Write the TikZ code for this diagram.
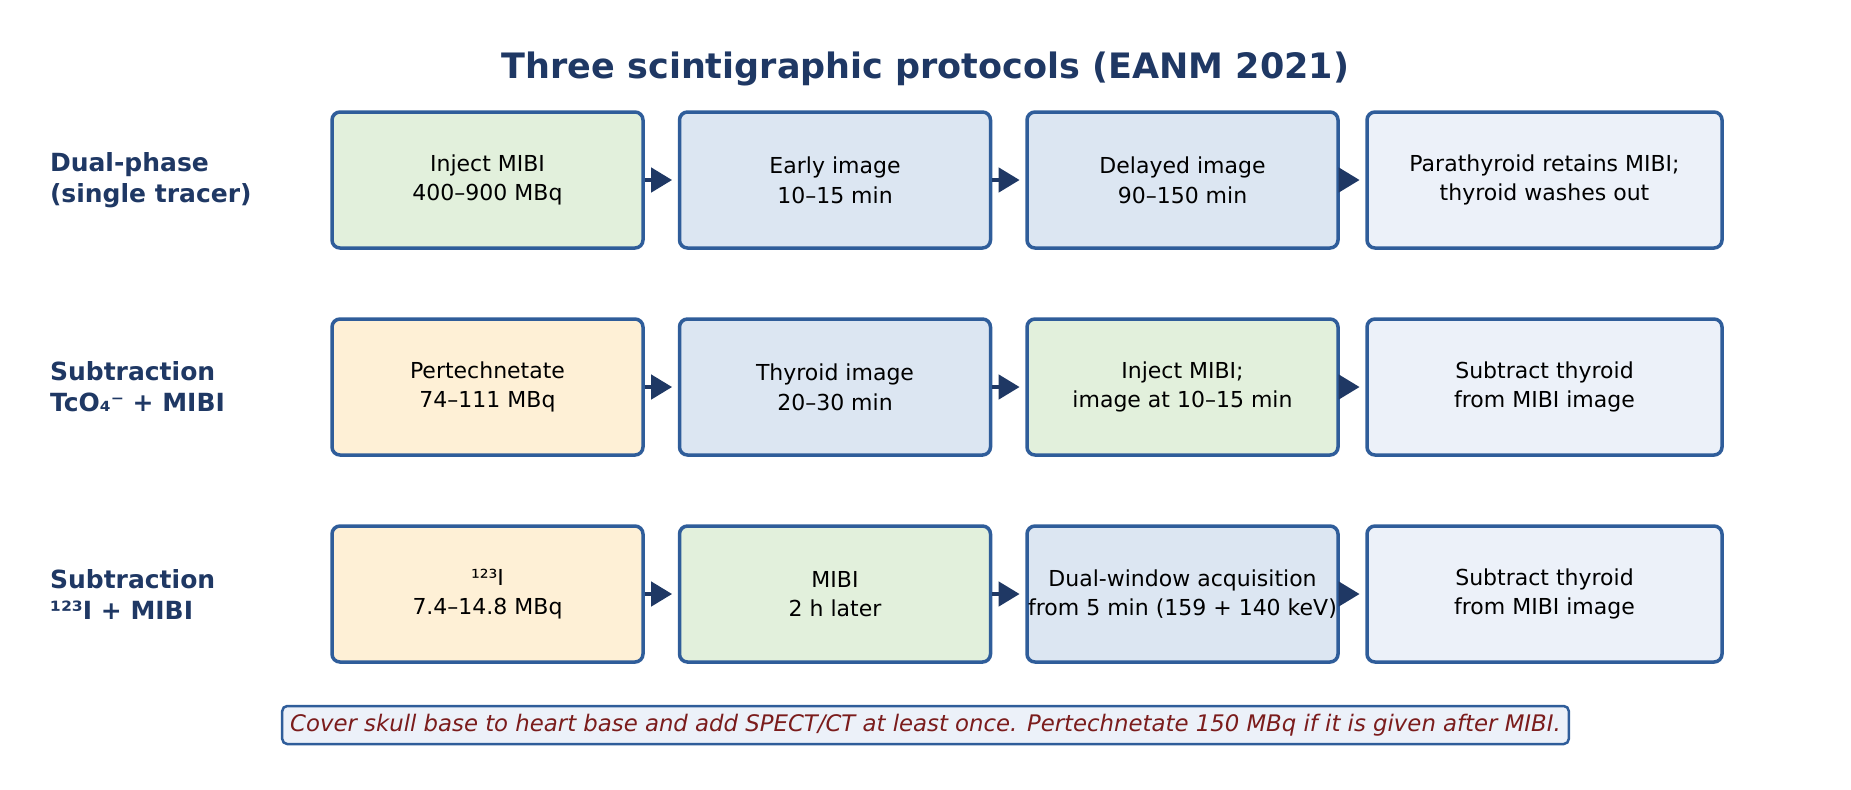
\documentclass[tikz,border=0pt]{standalone}
\usepackage{fontspec}
\setmainfont{DejaVu Sans}
\usepackage{tikz}
\usetikzlibrary{arrows.meta,positioning}
\definecolor{navy}{HTML}{1F3864}
\definecolor{edgeblue}{HTML}{2F5D9A}
\definecolor{injgreen}{HTML}{E2F0DC}
\definecolor{imgblue}{HTML}{DCE6F2}
\definecolor{outpale}{HTML}{ECF1F9}
\definecolor{tracer}{HTML}{FEF0D6}
\definecolor{notered}{HTML}{7B1C1C}
\tikzset{box/.style={draw=edgeblue, line width=1.75pt, rounded corners=4pt,
    minimum width=155.5pt, minimum height=68pt, inner sep=0pt, align=center,
    font=\fontsize{11}{14.8}\selectfont}}
\tikzstyle{inj}=[box, fill=injgreen]
\tikzstyle{img}=[box, fill=imgblue]
\tikzstyle{res}=[box, fill=outpale, minimum width=177.5pt]
\tikzstyle{trc}=[box, fill=tracer]
\tikzstyle{lbl}=[anchor=west, align=left, text=navy, font=\fontsize{12.5}{15.5}\selectfont\bfseries]
\begin{document}
\begin{tikzpicture}[node distance=173.75pt,>={Triangle[length=10.5pt,width=12pt]}]
    \useasboundingbox (0,0) rectangle (925.5pt,-394.5pt);
    \node [text=navy, font=\fontsize{17.5}{20}\selectfont\bfseries] (title) at (462.75pt,-34.25pt) {Three scintigraphic protocols (EANM 2021)};
    % dual-phase
    \node [inj] (d1) at (243.75pt,-90pt) {Inject MIBI\\400–900 MBq};
    \node [img] (d2) [right of=d1] {Early image\\10–15 min};
    \node [img] (d3) [right of=d2] {Delayed image\\90–150 min};
    \node [res] (d4) [right of=d3, node distance=181pt] {Parathyroid retains MIBI;\\thyroid washes out};
    % pertechnetate subtraction
    \node [trc] (t1) [below of=d1, node distance=103.5pt] {Pertechnetate\\74–111 MBq};
    \node [img] (t2) [right of=t1] {Thyroid image\\20–30 min};
    \node [inj] (t3) [right of=t2] {Inject MIBI;\\image at 10–15 min};
    \node [res] (t4) [right of=t3, node distance=181pt] {Subtract thyroid\\from MIBI image};
    % iodine subtraction
    \node [trc] (i1) [below of=t1, node distance=103.5pt] {¹²³I\\7.4–14.8 MBq};
    \node [inj] (i2) [right of=i1] {MIBI\\2 h later};
    \node [img] (i3) [right of=i2] {Dual-window acquisition\\from 5 min (159 + 140 keV)};
    \node [res] (i4) [right of=i3, node distance=181pt] {Subtract thyroid\\from MIBI image};
    \node [lbl] (ld) at (21.5pt,-90pt) {Dual-phase\\(single tracer)};
    \node [lbl] (lt) at (21.5pt,-193.5pt) {Subtraction\\TcO₄⁻ + MIBI};
    \node [lbl] (li) at (21.5pt,-297pt) {Subtraction\\¹²³I + MIBI};
    \path[->, navy, line width=2.2pt, shorten >=2.8pt]
        (d1) edge (d2) (d2) edge (d3) (d3) edge (d4)
        (t1) edge (t2) (t2) edge (t3) (t3) edge (t4)
        (i1) edge (i2) (i2) edge (i3) (i3) edge (i4);
    \node [draw=edgeblue, fill=outpale, line width=1.25pt, rounded corners=2.5pt,
        minimum height=19pt, inner xsep=4pt, text=notered,
        font=\fontsize{11.4}{13}\selectfont\itshape] (note) at (462.75pt,-362.5pt)
        {Cover skull base to heart base and add SPECT/CT at least once. Pertechnetate 150 MBq if it is given after MIBI.};
\end{tikzpicture}
\end{document}
